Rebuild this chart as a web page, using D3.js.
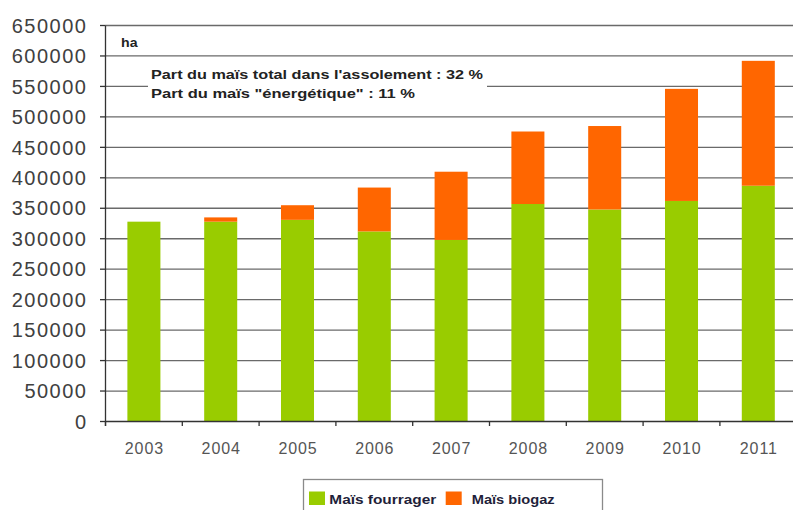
<!DOCTYPE html>
<html><head><meta charset="utf-8">
<script src="https://cdn.jsdelivr.net/npm/d3@7"></script>
<style>html,body{margin:0;padding:0;background:#fff;overflow:hidden}</style>
</head><body>
<script>
const years = ["2003","2004","2005","2006","2007","2008","2009","2010","2011"];
const fourrager = [328000,328000,331000,312000,298000,357000,348000,362000,387000];
const biogaz = [0,7000,24000,72000,112000,119000,137000,184000,205000];
const yTicks = [0,50000,100000,150000,200000,250000,300000,350000,400000,450000,500000,550000,600000,650000];
const seriesNames = ["Maïs fourrager","Maïs biogaz"];
const colors = ["#99cc00","#ff6600"];
const unitLabel = "ha";
const noteLines = ["Part du maïs total dans l'assolement : 32 %","Part du maïs \"énergétique\" : 11 %"];

const W=793,H=510;
const svg=d3.select("body").append("svg").attr("width",W).attr("height",H).style("font-family","'Liberation Sans',Arial,sans-serif");
const x0=105.5, step=76.8;
const x=d3.scaleBand().domain(years).range([x0,x0+step*years.length]).paddingInner(0.57).paddingOuter(0.285);
const y=d3.scaleLinear().domain([0,650000]).range([421.5,25.5]);

// gridlines
svg.append("g").selectAll("line").data(yTicks.filter(d=>d>0)).join("line")
 .attr("x1",x0).attr("x2",W).attr("y1",d=>y(d)).attr("y2",d=>y(d))
 .attr("stroke","#6a6a6a").attr("stroke-width",1.3);

// note box covering gridline
svg.append("rect").attr("x",148).attr("y",63).attr("width",339).attr("height",40).attr("fill","#fff");

// bars
const stack=d3.stack().keys([0,1]).value((d,k)=>k===0?d.f:d.b);
const rows=years.map((yr,i)=>({yr,f:fourrager[i],b:biogaz[i]}));
const layers=stack(rows);
svg.append("g").selectAll("g").data(layers).join("g").attr("fill",(d,i)=>colors[i])
 .selectAll("rect").data(d=>d).join("rect")
 .attr("x",d=>x(d.data.yr)).attr("width",x.bandwidth())
 .attr("y",d=>y(d[1])).attr("height",d=>Math.max(0,y(d[0])-y(d[1])));

// y axis
svg.append("line").attr("x1",x0).attr("x2",x0).attr("y1",y(650000)).attr("y2",426).attr("stroke","#333").attr("stroke-width",1.3);
svg.append("g").selectAll("line").data(yTicks).join("line")
 .attr("x1",100).attr("x2",x0).attr("y1",d=>y(d)).attr("y2",d=>y(d)).attr("stroke","#333").attr("stroke-width",1.3);
svg.append("g").selectAll("text").data(yTicks).join("text")
 .attr("x",87.5).attr("y",d=>y(d)+7.2).attr("text-anchor","end")
 .attr("font-size",20).attr("letter-spacing","1.5px").attr("fill","#404040").text(d=>d);

// x axis
svg.append("line").attr("x1",x0).attr("x2",W).attr("y1",y(0)).attr("y2",y(0)).attr("stroke","#333").attr("stroke-width",1.3);
svg.append("g").selectAll("line").data(d3.range(years.length+1)).join("line")
 .attr("x1",i=>x0+i*step).attr("x2",i=>x0+i*step).attr("y1",y(0)).attr("y2",426).attr("stroke","#333").attr("stroke-width",1.3);
svg.append("g").selectAll("text").data(years).join("text")
 .attr("x",d=>x(d)+x.bandwidth()/2+0.5).attr("y",453.5).attr("text-anchor","middle")
 .attr("font-size",16).attr("letter-spacing","0.9px").attr("fill","#555").text(d=>d);

// unit label
svg.append("text").attr("x",121).attr("y",47).attr("font-size",12).attr("font-weight","bold").attr("fill","#222")
 .attr("textLength",16.5).attr("lengthAdjust","spacingAndGlyphs").text(unitLabel);

// notes
const noteLens=[332,264];
svg.append("g").selectAll("text").data(noteLines).join("text")
 .attr("x",151).attr("y",(d,i)=>79+i*19.3).attr("font-size",13).attr("font-weight","bold").attr("fill","#222")
 .attr("textLength",(d,i)=>noteLens[i]).attr("lengthAdjust","spacingAndGlyphs").text(d=>d);

// legend
svg.append("rect").attr("x",303.5).attr("y",479.5).attr("width",299).attr("height",40)
 .attr("fill","#fff").attr("stroke","#8a8a8a").attr("stroke-width",1.3);
const legX=[309,445.7], legTX=[329.3,471.7], legTL=[107,83];
const lg=svg.append("g").selectAll("g").data(seriesNames).join("g");
lg.append("rect").attr("x",(d,i)=>legX[i]).attr("y",491.5).attr("width",16).attr("height",13.5).attr("fill",(d,i)=>colors[i]);
lg.append("text").attr("x",(d,i)=>legTX[i]).attr("y",503.5).attr("font-size",12).attr("font-weight","bold").attr("fill","#1f1f3a")
 .attr("textLength",(d,i)=>legTL[i]).attr("lengthAdjust","spacingAndGlyphs").text(d=>d);
</script>
</body></html>
